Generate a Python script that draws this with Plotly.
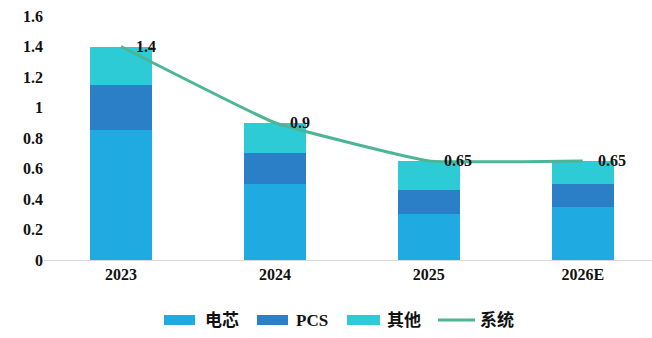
import plotly.graph_objects as go

years = ["2023", "2024", "2025", "2026E"]
cell = [0.85, 0.50, 0.30, 0.35]
pcs = [0.30, 0.20, 0.16, 0.15]
other = [0.25, 0.20, 0.19, 0.15]
system = [1.4, 0.9, 0.65, 0.65]
system_labels = ["1.4", "0.9", "0.65", "0.65"]

names = ["电芯", "PCS", "其他", "系统"]
colors = ["#1FAAE2", "#2B7FC7", "#2CCBD5", "#4DB595"]

font_fam = "'Times New Roman', 'Liberation Serif', 'Noto Sans CJK SC', serif"

fig = go.Figure()
for vals, nm, col in zip([cell, pcs, other], names[:3], colors[:3]):
    fig.add_trace(go.Bar(name=nm, x=years, y=vals, marker_color=col,
                         marker_line_width=0, showlegend=False))
fig.add_trace(go.Scatter(
    name=names[3], x=years, y=system, mode="lines", showlegend=False,
    line=dict(color=colors[3], width=3, shape="spline", smoothing=0.3),
))
for i, (yv, lab) in enumerate(zip(system, system_labels)):
    fig.add_annotation(x=i, y=yv, text=f"<b>{lab}</b>", showarrow=False,
                       xanchor="left", yanchor="middle", xshift=13,
                       font=dict(family=font_fam, size=16, color="#111111"))

# custom legend (wide swatches like the original)
L, W, T, H = 44, 608, 16, 244
def px(x):
    return (x - L) / W
def py(y):
    return (T + H - y) / H
legend_items = [(164, 195, 203), (257, 288, 294), (347, 380, 385), (438, 475, 478)]
yc = 320
for k, (x0, x1, xt) in enumerate(legend_items):
    if k < 3:
        fig.add_shape(type="rect", xref="paper", yref="paper",
                      x0=px(x0), x1=px(x1), y0=py(yc + 5), y1=py(yc - 5),
                      fillcolor=colors[k], line=dict(width=0))
    else:
        fig.add_shape(type="line", xref="paper", yref="paper",
                      x0=px(x0), x1=px(x1), y0=py(yc), y1=py(yc),
                      line=dict(color=colors[k], width=3))
    fig.add_annotation(xref="paper", yref="paper", x=px(xt), y=py(yc),
                       text=f"<b>{names[k]}</b>", showarrow=False,
                       xanchor="left", yanchor="middle",
                       font=dict(family=font_fam, size=17, color="#111111"))

fig.update_layout(
    barmode="stack",
    bargap=0.6,
    width=652, height=338,
    margin=dict(l=44, r=0, t=16, b=78),
    plot_bgcolor="white", paper_bgcolor="white",
    font=dict(family=font_fam, size=15, color="#111111"),
    showlegend=False,
    xaxis=dict(range=[-0.5, 3.45], showgrid=False, showline=True, linecolor="#D9D9D9",
               linewidth=1, ticks="", tickfont=dict(family=font_fam, size=16, color="#111111")),
    yaxis=dict(range=[0, 1.6], dtick=0.2, showgrid=False, zeroline=False, showline=False,
               ticks="", tickfont=dict(family=font_fam, size=16, color="#111111")),
)
fig.update_xaxes(tickprefix="<b>", ticksuffix="</b>")
fig.update_yaxes(tickprefix="<b>", ticksuffix="</b>")

fig.write_html("out.html")
